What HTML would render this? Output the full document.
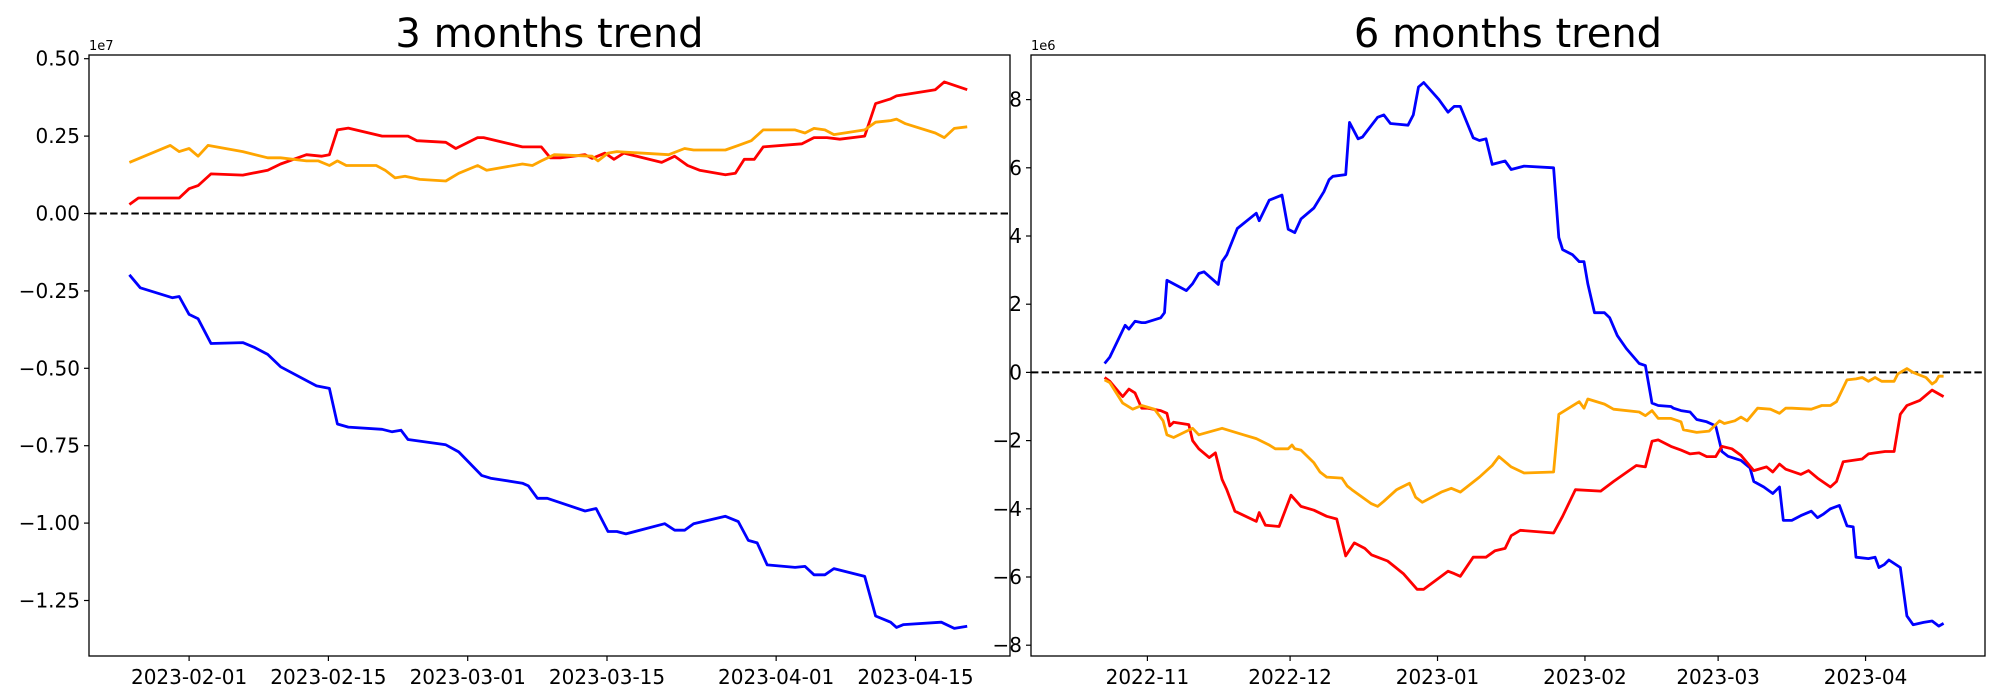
<!DOCTYPE html>
<html><head><meta charset="utf-8"><style>
html,body{margin:0;padding:0;background:#fff;}
svg{display:block;font-family:"DejaVu Sans","Liberation Sans",sans-serif;}
</style></head><body>
<svg id="fig" width="2000" height="700" viewBox="0 0 2000 700" xmlns="http://www.w3.org/2000/svg"></svg>
<script>
// ---------- LEFT CHART DATA (days since 2023-01-26, values in 1e7) ----------
const leftTickLabels = ["2023-02-01","2023-02-15","2023-03-01","2023-03-15","2023-04-01","2023-04-15"];
const leftTickDays = [6,20,34,48,65,79];
const leftYTicks = [0.5,0.25,0,-0.25,-0.5,-0.75,-1.0,-1.25];
const leftYTickLabels = ["0.50","0.25","0.00","\u22120.25","\u22120.50","\u22120.75","\u22121.00","\u22121.25"];
const leftRedDays = [0,0.9,5,6,6.9,8.2,11.4,13.9,15.2,17.8,19.3,20.1,20.9,22,25.4,28,28.9,31.8,32.8,35,35.6,39.5,40.7,41.4,42.3,43.3,45.8,46.5,47.8,48.7,49.7,53.5,54.8,56.1,57.3,59.9,60.9,61.8,62.8,63.7,67.6,68.8,70.1,71.4,73.9,75,76.5,77.1,81,81.9,84.2];
const leftRedVals = [0.029,0.05,0.05,0.08,0.09,0.128,0.124,0.14,0.16,0.19,0.185,0.19,0.27,0.276,0.25,0.25,0.235,0.23,0.21,0.245,0.245,0.215,0.215,0.215,0.18,0.18,0.19,0.178,0.195,0.175,0.195,0.165,0.185,0.155,0.14,0.125,0.13,0.175,0.175,0.215,0.225,0.245,0.245,0.24,0.25,0.355,0.37,0.38,0.40,0.425,0.40];
const leftOrangeDays = [0,4.1,5,6,6.9,7.9,11.4,13.9,15.2,17.8,19,20.1,20.9,21.8,24.8,25.7,26.7,27.7,29.2,31.8,33.1,35,35.9,39.5,40.5,41.4,42.7,46.5,47.1,48.1,49,54.2,55.8,56.7,59.9,61.2,62.5,63.7,66.9,67.9,68.8,69.9,70.8,73.9,75,76.5,77.1,78,81,81.9,82.9,84.2];
const leftOrangeVals = [0.165,0.22,0.2,0.21,0.185,0.22,0.2,0.18,0.18,0.17,0.17,0.155,0.17,0.155,0.155,0.14,0.115,0.12,0.11,0.105,0.13,0.155,0.14,0.16,0.155,0.17,0.19,0.185,0.17,0.195,0.2,0.19,0.21,0.205,0.205,0.22,0.235,0.27,0.27,0.26,0.275,0.27,0.255,0.27,0.295,0.30,0.305,0.29,0.26,0.245,0.275,0.28];
const leftBlueDays = [0,1.1,4.3,5,6,6.9,8.2,11.4,12.6,13.9,15.2,18.8,20.1,20.9,22,25.4,26.4,27.3,28,31.8,33.1,35.4,36.3,39.5,40.1,41,42,45.8,46.9,48.1,49,49.9,53.8,54.8,55.8,56.7,59.9,61.2,62.2,63.1,64.1,66.9,67.9,68.8,69.9,70.8,73.9,75,76.5,77.1,77.8,81.6,82.9,84.2];
const leftBlueVals = [-0.198,-0.24,-0.272,-0.268,-0.326,-0.34,-0.42,-0.417,-0.433,-0.455,-0.495,-0.557,-0.565,-0.68,-0.69,-0.697,-0.705,-0.7,-0.73,-0.747,-0.77,-0.846,-0.855,-0.871,-0.88,-0.92,-0.92,-0.961,-0.953,-1.027,-1.027,-1.035,-1.002,-1.023,-1.023,-1.002,-0.978,-0.995,-1.056,-1.064,-1.135,-1.143,-1.14,-1.167,-1.167,-1.147,-1.172,-1.3,-1.32,-1.337,-1.328,-1.32,-1.34,-1.333];

// ---------- RIGHT CHART DATA (days since 2022-10-23, values in 1e6) ----------
const rightTickLabels = ["2022-11","2022-12","2023-01","2023-02","2023-03","2023-04"];
const rightTickDays = [9,39,70,101,129,160];
const rightYTicks = [8,6,4,2,0,-2,-4,-6,-8];
const rightYTickLabels = ["8","6","4","2","0","\u22122","\u22124","\u22126","\u22128"];
const rightBlueDays = [0,1.1,4.3,5.1,6.4,7.8,8.6,11.8,12.6,13.1,17.2,18.5,19.8,20.9,23.9,24.7,25.7,27.9,31.9,32.5,34.6,37.3,38.6,40,41.3,44,46.1,47.2,48,50.7,51.5,53.3,54.2,57.4,58.7,60.1,63.8,64.9,66,67.1,70.3,72.2,73.5,74.8,77.5,78.8,80.2,81.5,84.2,85.5,88.2,94.4,95.5,96.3,98.4,99.8,100.8,101.6,103,105.1,106.2,107.8,109.7,112.4,113.7,115.1,116.4,119.1,119.6,121.2,123.1,124.5,126.6,128.5,129.8,131.1,133.8,135.7,136.5,138.6,140.5,141.9,142.7,144.5,146.4,148.6,149.9,151.2,152.6,154.5,156.1,157.4,158,160.6,162,162.8,163.9,164.9,167.3,168.7,170,172.2,174,175.4,176.4];
const rightBlueVals = [0.26,0.45,1.38,1.27,1.5,1.46,1.46,1.6,1.75,2.7,2.4,2.6,2.9,2.95,2.58,3.25,3.45,4.22,4.67,4.45,5.05,5.2,4.2,4.1,4.5,4.82,5.3,5.65,5.75,5.8,7.33,6.85,6.9,7.48,7.55,7.3,7.25,7.55,8.37,8.5,8.0,7.63,7.8,7.8,6.88,6.8,6.85,6.1,6.2,5.95,6.05,6.0,3.96,3.6,3.45,3.25,3.25,2.6,1.75,1.75,1.6,1.08,0.7,0.26,0.2,-0.9,-0.97,-1.0,-1.05,-1.12,-1.16,-1.38,-1.45,-1.57,-2.32,-2.46,-2.58,-2.8,-3.2,-3.36,-3.55,-3.36,-4.34,-4.34,-4.2,-4.07,-4.26,-4.15,-4.0,-3.9,-4.5,-4.53,-5.42,-5.46,-5.42,-5.72,-5.64,-5.5,-5.72,-7.14,-7.4,-7.33,-7.29,-7.44,-7.36];
const rightRedDays = [0,1.1,3.8,5.1,6.4,7.8,9.1,11.8,13.1,13.7,14.5,17.7,18.5,19.8,22,23.3,24.7,25.7,27.4,31.9,32.5,33.8,36.7,39.2,41.3,44,46.7,48.8,50.7,52.5,54.7,56.1,57.4,59.5,62.8,65.7,67.1,70.8,72.2,73.5,74.8,77.5,80.2,82.1,84.2,85.5,87.4,94.4,96.3,99,104.3,107,111.8,113.7,115.1,116.4,119.1,121.2,123.1,125,126.6,128.5,129.8,131.9,133.8,136.5,139.2,140.5,141.9,143.2,146.4,148,149.9,152.6,153.9,155.3,159.3,160.6,162,164.1,166,167.3,168.7,171.4,174,176.4];
const rightRedVals = [-0.15,-0.26,-0.71,-0.49,-0.6,-1.05,-1.05,-1.12,-1.2,-1.57,-1.46,-1.53,-2.0,-2.24,-2.5,-2.36,-3.14,-3.44,-4.07,-4.37,-4.11,-4.48,-4.52,-3.6,-3.93,-4.04,-4.22,-4.3,-5.38,-5.0,-5.16,-5.35,-5.42,-5.53,-5.9,-6.36,-6.36,-5.98,-5.83,-5.9,-5.98,-5.42,-5.42,-5.23,-5.16,-4.79,-4.63,-4.71,-4.22,-3.44,-3.48,-3.2,-2.73,-2.77,-2.02,-1.98,-2.17,-2.28,-2.39,-2.36,-2.47,-2.47,-2.17,-2.24,-2.43,-2.88,-2.77,-2.92,-2.69,-2.84,-2.99,-2.88,-3.1,-3.36,-3.2,-2.62,-2.54,-2.39,-2.36,-2.32,-2.32,-1.23,-0.97,-0.82,-0.52,-0.71];
const rightOrangeDays = [0,1.1,3.8,5.9,7.8,10.5,12.3,13.1,14.5,18.5,19.8,24.7,29.2,31.9,34.6,35.9,38.6,39.4,40,41.3,44,45.3,46.7,49.9,51,52,56.1,57.4,58.7,61.4,64.1,65.4,66.8,70.8,72.9,74.8,78.8,81.5,82.9,85.5,88.2,94.4,95.5,99.8,100.8,101.6,105.1,107,112.4,113.7,115.1,116.4,119.1,121.2,121.7,124.5,127.1,129.3,130.3,132.5,133.8,135.1,137.3,140,141.9,143.2,144.5,148.6,150.8,152.6,153.9,156.1,158,159.3,160.6,162,163.4,166,166.8,168.7,170,172.7,174,174.8,175.4,176.4];
const rightOrangeVals = [-0.22,-0.3,-0.9,-1.08,-0.97,-1.08,-1.42,-1.83,-1.91,-1.64,-1.83,-1.64,-1.83,-1.94,-2.13,-2.24,-2.24,-2.13,-2.24,-2.28,-2.65,-2.92,-3.07,-3.1,-3.33,-3.44,-3.85,-3.93,-3.78,-3.44,-3.25,-3.66,-3.81,-3.51,-3.4,-3.51,-3.07,-2.73,-2.47,-2.77,-2.95,-2.92,-1.23,-0.86,-1.05,-0.78,-0.93,-1.08,-1.16,-1.27,-1.12,-1.35,-1.35,-1.45,-1.68,-1.76,-1.72,-1.42,-1.5,-1.42,-1.31,-1.42,-1.05,-1.08,-1.2,-1.05,-1.05,-1.08,-0.97,-0.97,-0.86,-0.22,-0.19,-0.15,-0.26,-0.15,-0.26,-0.26,-0.04,0.11,0,-0.15,-0.34,-0.26,-0.11,-0.11];

const NS = "http://www.w3.org/2000/svg";
const svg = document.getElementById('fig');
function mk(tag, attrs, parent){
  const e = document.createElementNS(NS, tag);
  for (const k in attrs) e.setAttribute(k, attrs[k]);
  (parent||svg).appendChild(e);
  return e;
}

function drawPanel(cfg){
  const g = mk('g', {});
  
  
  const xs = d => cfg.x0 + (d - cfg.d0) * cfg.kx;
  const ys = v => cfg.yZero - v * cfg.ky;
  // title
  const t = mk('text', {x:(cfg.left+cfg.right)/2, y:47, 'text-anchor':'middle', 'font-size':'40', fill:'#000'}, g);
  t.textContent = cfg.title;
  
  
  // offset text
  const o = mk('text', {x:cfg.left, y:50, 'font-size':'13', fill:'#000'}, g);
  o.textContent = cfg.offset;
  
  
  // zero line
  const z = mk('line', {x1:cfg.left, x2:cfg.right, y1:ys(0), y2:ys(0), stroke:'#000', 'stroke-width':'2', 'stroke-dasharray':'7.4,3.2'}, g);
  
  
  // series
  cfg.series.forEach(s => {
    const pts = s.days.map((d,i) => xs(d).toFixed(1) + ',' + ys(s.vals[i]).toFixed(1)).join(' ');
    const p = mk('polyline', {points:pts, fill:'none', stroke:s.color, 'stroke-width':'2.8', 'stroke-linejoin':'round'}, g);
    
    
  });
  // frame
  const f = mk('rect', {x:cfg.left, y:cfg.top, width:cfg.right-cfg.left, height:cfg.bottom-cfg.top, fill:'none', stroke:'#000', 'stroke-width':'1.3'}, g);
  
  
  // y ticks
  cfg.yTicks.forEach((v,i) => {
    const y = ys(v);
    const l = mk('line', {x1:cfg.left-5, x2:cfg.left, y1:y, y2:y, stroke:'#000', 'stroke-width':'1.2'}, g);
    
    
    const tx = mk('text', {x:cfg.left-9, y:y+7, 'text-anchor':'end', 'font-size':'20', fill:'#000'}, g);
    tx.textContent = cfg.yLabels[i];
    
    
  });
  // x ticks
  cfg.xTicks.forEach((d,i) => {
    const x = xs(d);
    const l = mk('line', {x1:x, x2:x, y1:cfg.bottom, y2:cfg.bottom+5, stroke:'#000', 'stroke-width':'1.2'}, g);
    
    
    const tx = mk('text', {x:x, y:cfg.bottom+28, 'text-anchor':'middle', 'font-size':'20', fill:'#000'}, g);
    tx.textContent = cfg.xLabels[i];
    
    
  });
}

drawPanel({
  name:'left-chart', title:'3 months trend', offset:'1e7',
  left:89, right:1010, top:55, bottom:656,
  x0:129.4, d0:0, kx:9.95, yZero:213.5, ky:309.6,
  yTicks:leftYTicks, yLabels:leftYTickLabels, xTicks:leftTickDays, xLabels:leftTickLabels,
  series:[
    {name:'blue-series', color:'#0000ff', days:leftBlueDays, vals:leftBlueVals},
    {name:'red-series', color:'#ff0000', days:leftRedDays, vals:leftRedVals},
    {name:'orange-series', color:'#ffa500', days:leftOrangeDays, vals:leftOrangeVals}
  ]
});
drawPanel({
  name:'right-chart', title:'6 months trend', offset:'1e6',
  left:1031, right:1985, top:55, bottom:656,
  x0:1104.6, d0:0, kx:4.756, yZero:372.4, ky:34.1,
  yTicks:rightYTicks, yLabels:rightYTickLabels, xTicks:rightTickDays, xLabels:rightTickLabels,
  series:[
    {name:'blue-series', color:'#0000ff', days:rightBlueDays, vals:rightBlueVals},
    {name:'red-series', color:'#ff0000', days:rightRedDays, vals:rightRedVals},
    {name:'orange-series', color:'#ffa500', days:rightOrangeDays, vals:rightOrangeVals}
  ]
});
</script>
</body></html>
